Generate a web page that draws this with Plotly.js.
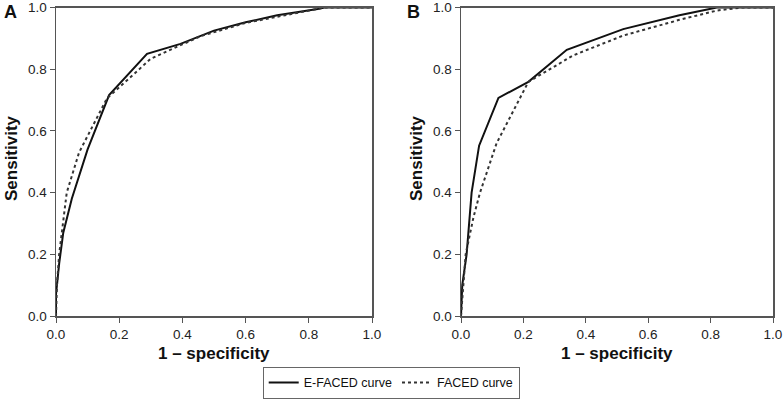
<!DOCTYPE html>
<html>
<head>
<meta charset="utf-8">
<script src="https://cdn.plot.ly/plotly-3.0.1.min.js"></script>
<style>html,body{margin:0;padding:0;background:#fff;}#chart{width:784px;height:400px;}</style>
</head>
<body>
<div id="chart"></div>
<script>
// Panel A – E-FACED curve
const aEfacedX = [0, 0, 0.01, 0.023, 0.05, 0.1, 0.168, 0.288, 0.394, 0.5, 0.6, 0.7, 0.828, 0.85, 1.0];
const aEfacedY = [0, 0.07, 0.17, 0.27, 0.38, 0.54, 0.716, 0.85, 0.882, 0.925, 0.952, 0.975, 0.995, 1.0, 1.0];
// Panel A – FACED curve
const aFacedX = [0, 0.003, 0.01, 0.034, 0.073, 0.161, 0.30, 0.457, 0.6, 0.8, 0.85, 1.0];
const aFacedY = [0, 0.1, 0.2, 0.4, 0.53, 0.705, 0.834, 0.907, 0.95, 0.99, 1.0, 1.0];
// Panel B – E-FACED curve
const bEfacedX = [0, 0.004, 0.018, 0.034, 0.058, 0.12, 0.216, 0.339, 0.52, 0.7, 0.82, 1.0];
const bEfacedY = [0, 0.1, 0.2, 0.4, 0.552, 0.707, 0.759, 0.863, 0.93, 0.975, 1.0, 1.0];
// Panel B – FACED curve
const bFacedX = [0, 0.015, 0.04, 0.061, 0.114, 0.216, 0.36, 0.52, 0.7, 0.82, 0.9, 1.0];
const bFacedY = [0, 0.2, 0.32, 0.4, 0.56, 0.759, 0.845, 0.909, 0.96, 0.99, 1.0, 1.0];

const tickVals = [0, 0.2, 0.4, 0.6, 0.8, 1.0];
const tickText = ["0.0", "0.2", "0.4", "0.6", "0.8", "1.0"];
const seriesNames = ["E-FACED curve", "FACED curve"];
const panelLabels = ["A", "B"];
const xTitle = "1 – specificity";
const yTitle = "Sensitivity";

const FONT = "Liberation Sans, Arial, sans-serif";
const solid = {color: "#111", width: 2, dash: "solid"};
const dotted = {color: "#333", width: 2, dash: "dot"};

const traces = [
  {x: aEfacedX, y: aEfacedY, xaxis: "x", yaxis: "y", mode: "lines", name: seriesNames[0], line: solid, showlegend: true},
  {x: aFacedX, y: aFacedY, xaxis: "x", yaxis: "y", mode: "lines", name: seriesNames[1], line: dotted, showlegend: true},
  {x: bEfacedX, y: bEfacedY, xaxis: "x2", yaxis: "y2", mode: "lines", name: seriesNames[0], line: solid, showlegend: false},
  {x: bFacedX, y: bFacedY, xaxis: "x2", yaxis: "y2", mode: "lines", name: seriesNames[1], line: dotted, showlegend: false}
];

function axis(domain, anchor) {
  return {
    domain: domain, anchor: anchor, range: [0, 1],
    tickvals: tickVals, ticktext: tickText,
    ticks: "outside", ticklen: 5, tickwidth: 1, tickcolor: "#555",
    showline: true, linecolor: "#555", linewidth: 1.5, mirror: true,
    showgrid: false, zeroline: false, ticklabeloverflow: "allow",
    tickfont: {family: FONT, size: 13.5, color: "#222"}
  };
}

const W = 784, H = 400;
const ya = [(H - 316) / H, (H - 7.5) / H];
const layout = {
  width: W, height: H,
  margin: {l: 0, r: 0, t: 0, b: 0},
  paper_bgcolor: "#fff", plot_bgcolor: "#fff",
  xaxis: axis([56 / W, 372 / W], "y"),
  yaxis: axis(ya, "x"),
  xaxis2: axis([461 / W, 773 / W], "y2"),
  yaxis2: axis(ya, "x2"),
  showlegend: true,
  legend: {
    orientation: "h", x: 0.499, xanchor: "center", y: 0.003, yanchor: "bottom",
    bordercolor: "#666", borderwidth: 1, bgcolor: "#fff",
    font: {family: FONT, size: 12.5, color: "#111"},
    itemwidth: 30, tracegroupgap: 0
  },
  annotations: [
    {text: "<b>" + panelLabels[0] + "</b>", xref: "paper", yref: "paper", x: 2 / W, y: (H - 12) / H, xanchor: "left", yanchor: "middle", showarrow: false, font: {family: FONT, size: 18, color: "#111"}},
    {text: "<b>" + panelLabels[1] + "</b>", xref: "paper", yref: "paper", x: 405 / W, y: (H - 12) / H, xanchor: "left", yanchor: "middle", showarrow: false, font: {family: FONT, size: 18, color: "#111"}},
    {text: "<b>" + yTitle + "</b>", xref: "paper", yref: "paper", x: 11 / W, y: (H - 158) / H, xanchor: "center", yanchor: "middle", textangle: -90, showarrow: false, font: {family: FONT, size: 17, color: "#111"}},
    {text: "<b>" + yTitle + "</b>", xref: "paper", yref: "paper", x: 416 / W, y: (H - 158) / H, xanchor: "center", yanchor: "middle", textangle: -90, showarrow: false, font: {family: FONT, size: 17, color: "#111"}},
    {text: "<b>" + xTitle + "</b>", xref: "paper", yref: "paper", x: 214 / W, y: (H - 353) / H, xanchor: "center", yanchor: "middle", showarrow: false, font: {family: FONT, size: 17, color: "#111"}},
    {text: "<b>" + xTitle + "</b>", xref: "paper", yref: "paper", x: 617 / W, y: (H - 353) / H, xanchor: "center", yanchor: "middle", showarrow: false, font: {family: FONT, size: 17, color: "#111"}}
  ]
};

Plotly.newPlot("chart", traces, layout, {staticPlot: true, displayModeBar: false});
</script>
</body>
</html>
